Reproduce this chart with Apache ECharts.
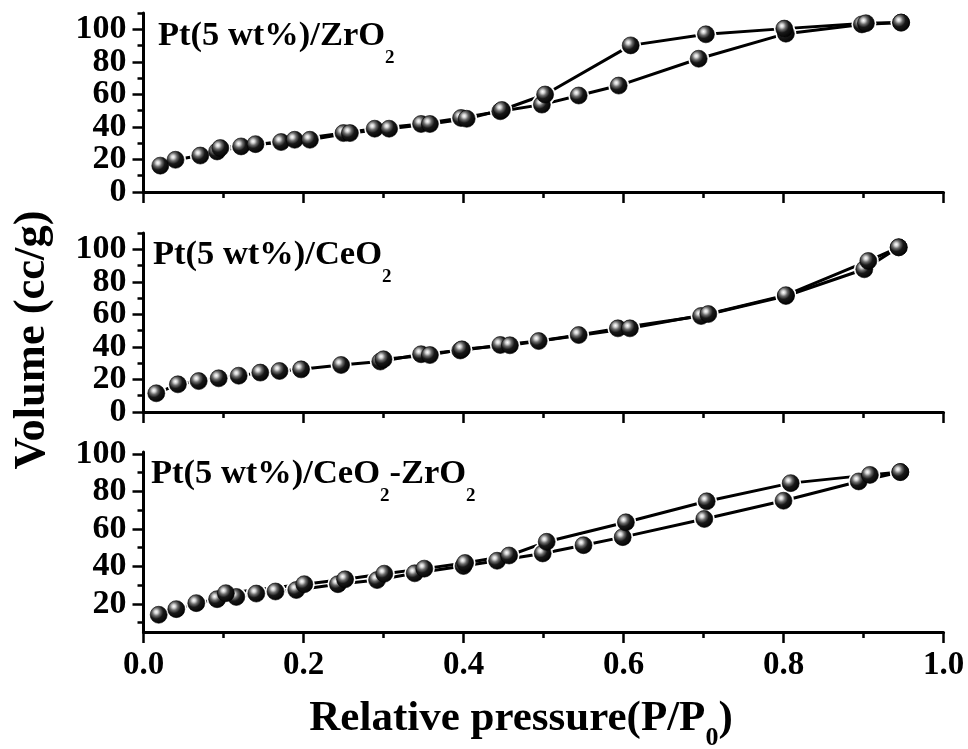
<!DOCTYPE html>
<html>
<head>
<meta charset="utf-8">
<script src="https://cdn.jsdelivr.net/npm/echarts@6/dist/echarts.min.js"></script>
<style>html,body{margin:0;padding:0;background:#fff;}#chart{width:968px;height:749px;}</style>
</head>
<body>
<div id="chart"></div>
<script>
// ---- data ----
const panelLabels = ['Pt(5 wt%)/ZrO{s|2}', 'Pt(5 wt%)/CeO{s|2}', 'Pt(5 wt%)/CeO{s|2}{m|-ZrO}{s|2}'];
const xTickLabels = ['0.0', '0.2', '0.4', '0.6', '0.8', '1.0'];
const yLabelsTop = [0, 20, 40, 60, 80, 100];
const yLabelsMid = [0, 20, 40, 60, 80, 100];
const yLabelsBot = [20, 40, 60, 80, 100];

// Pt/ZrO2
const zrAdsX = [0.021,0.040,0.071,0.092,0.122,0.172,0.189,0.250,0.289,0.347,0.397,0.446,0.498,0.544,0.594,0.694,0.803,0.898,0.947];
const zrAdsY = [16.2,19.8,22.4,24.9,28.0,30.7,32.1,36.2,38.9,41.8,45.5,49.6,53.7,59.3,65.4,81.9,97.3,103.0,104.1];
const zrDesX = [0.947,0.903,0.801,0.703,0.609,0.502,0.448,0.404,0.358,0.307,0.258,0.208,0.140,0.096];
const zrDesY = [104.1,103.7,100.4,96.9,90.1,59.9,50.4,45.0,41.8,38.9,36.2,32.1,29.4,27.0];

// Pt/CeO2
const ceAdsX = [0.016,0.043,0.069,0.094,0.119,0.146,0.170,0.197,0.247,0.296,0.347,0.396,0.446,0.494,0.544,0.593,0.697,0.803,0.901,0.944];
const ceAdsY = [11.5,17.0,19.0,20.7,22.3,24.2,25.2,26.2,28.9,31.0,35.5,37.8,41.2,43.6,47.3,51.4,59.0,71.3,87.7,101.2];
const ceDesX = [0.944,0.906,0.803,0.706,0.608,0.458,0.398,0.358,0.300];
const ceDesY = [101.2,92.8,71.8,60.2,51.4,41.0,38.5,35.0,32.4];

// Pt/CeO2-ZrO2
const czAdsX = [0.019,0.041,0.066,0.092,0.116,0.141,0.165,0.191,0.243,0.292,0.339,0.400,0.442,0.499,0.550,0.599,0.701,0.800,0.894,0.946];
const czAdsY = [14.2,17.2,20.4,22.5,23.7,25.5,26.6,27.4,30.5,32.7,36.3,40.2,43.0,46.9,51.3,55.6,65.3,75.0,85.3,90.3];
const czDesX = [0.946,0.908,0.809,0.704,0.603,0.504,0.457,0.402,0.351,0.301,0.252,0.201,0.103];
const czDesY = [90.3,88.8,84.4,74.7,63.5,53.1,45.8,41.8,38.8,36.1,33.1,30.5,25.7];

// ---- build ----
const FONT = '"Liberation Serif", "Times New Roman", serif';
const pairs = (xs, ys) => xs.map((x, i) => [x, ys[i]]);
const panels = [
  {ads: pairs(zrAdsX, zrAdsY), des: pairs(zrDesX, zrDesY), min: 0, max: 110, labels: yLabelsTop, minor: [10,30,50,70,90,110], top: 13, height: 179},
  {ads: pairs(ceAdsX, ceAdsY), des: pairs(ceDesX, ceDesY), min: 0, max: 110, labels: yLabelsMid, minor: [10,30,50,70,90,110], top: 233, height: 179},
  {ads: pairs(czAdsX, czAdsY), des: pairs(czDesX, czDesY), min: 5, max: 101, labels: yLabelsBot, minor: [10,30,50,70,90], top: 452, height: 180}
];

const sphereColor = {
  type: 'radial', x: 0.36, y: 0.34, r: 0.72,
  colorStops: [
    {offset: 0, color: '#ffffff'},
    {offset: 0.14, color: '#d4d4d4'},
    {offset: 0.32, color: '#6a6a6a'},
    {offset: 0.55, color: '#181818'},
    {offset: 1, color: '#000000'}
  ]
};

const labelStyle = {showMinLabel: true, showMaxLabel: true, hideOverlap: false,
  margin: 17, color: '#000', fontFamily: FONT, fontWeight: 'bold', fontSize: 34};
const tickLine = {color: '#000', width: 2.5};

const grid = [], xAxis = [], yAxis = [], series = [];
panels.forEach((p, g) => {
  grid.push({left: 143.5, right: 24.5, top: p.top, height: p.height, outerBoundsMode: 'none'});
  xAxis.push({
    type: 'value', gridIndex: g, min: 0, max: 1, interval: 0.2,
    axisLine: {lineStyle: {color: '#000', width: 3}},
    axisTick: {show: true, length: 11, lineStyle: tickLine},
    minorTick: {show: true, splitNumber: 2, length: 6, lineStyle: tickLine},
    splitLine: {show: false}, minorSplitLine: {show: false},
    axisLabel: {
      show: g === 2, margin: 17, color: '#000', fontFamily: FONT, fontWeight: 'bold', fontSize: 33,
      showMinLabel: true, showMaxLabel: true,
      formatter: v => xTickLabels[Math.round(v / 0.2)]
    }
  });
  // labels split over two axes so that no axis has neighbouring labels (avoids auto-hiding)
  const setA = p.labels.filter((v, i) => i % 2 === 0);
  const setB = p.labels.filter((v, i) => i % 2 === 1);
  const base = yAxis.length;
  yAxis.push({
    type: 'value', gridIndex: g, min: p.min, max: p.max, position: 'left',
    axisLine: {show: true, lineStyle: {color: '#000', width: 3}},
    axisTick: {show: true, length: 11, customValues: setA, lineStyle: tickLine},
    splitLine: {show: false},
    axisLabel: Object.assign({customValues: setA}, labelStyle)
  });
  yAxis.push({
    type: 'value', gridIndex: g, min: p.min, max: p.max, position: 'left',
    axisLine: {show: false},
    axisTick: {show: true, length: 11, customValues: setB, lineStyle: tickLine},
    splitLine: {show: false},
    axisLabel: Object.assign({customValues: setB}, labelStyle)
  });
  yAxis.push({
    type: 'value', gridIndex: g, min: p.min, max: p.max, position: 'left',
    axisLine: {show: false},
    axisTick: {show: true, length: 6, customValues: p.minor, lineStyle: tickLine},
    splitLine: {show: false},
    axisLabel: {show: false}
  });
  ['ads', 'des'].forEach(k => {
    series.push({
      type: 'line', xAxisIndex: g, yAxisIndex: base, data: p[k], symbol: 'none', z: 2,
      lineStyle: {color: '#000', width: 3}, silent: true
    });
  });
  const all = p.ads.concat(p.des);
  series.push({
    type: 'scatter', xAxisIndex: g, yAxisIndex: base, data: all, symbolSize: 21, z: 3, silent: true,
    itemStyle: {color: '#ffffff', opacity: 1}
  });
  series.push({
    type: 'scatter', xAxisIndex: g, yAxisIndex: base, data: all, symbolSize: 17, z: 4, silent: true,
    itemStyle: {color: sphereColor, borderColor: '#000', borderWidth: 0.6, opacity: 1}
  });
});

const labelRich = {
  m: {fontFamily: FONT, fontWeight: 'bold', fontSize: 34.5, lineHeight: 40, verticalAlign: 'top', fill: '#000'},
  s: {fontFamily: FONT, fontWeight: 'bold', fontSize: 19, lineHeight: 19, padding: [30, 0, 0, 0], verticalAlign: 'top', fill: '#000'}
};
const labelPos = [[158, 19], [153, 238], [151, 457]];
const graphic = panelLabels.map((t, i) => {
  const idx = t.indexOf('{');
  return {
    type: 'text', x: labelPos[i][0], y: labelPos[i][1], silent: true,
    style: {text: '{m|' + t.slice(0, idx) + '}' + t.slice(idx), rich: labelRich}
  };
});

graphic.push({
  type: 'text', x: 32, y: 340, rotation: Math.PI / 2, silent: true,
  style: {text: 'Volume (cc/g)', fontFamily: FONT, fontWeight: 'bold', fontSize: 44.5, fill: '#000', align: 'center', verticalAlign: 'middle'}
});
graphic.push({
  type: 'text', x: 521, y: 697, silent: true,
  style: {
    text: '{m|Relative pressure(P/P}{s|0}{m|)}', align: 'center', verticalAlign: 'top',
    rich: {
      m: {fontFamily: FONT, fontWeight: 'bold', fontSize: 43, lineHeight: 46, verticalAlign: 'top', fill: '#000'},
      s: {fontFamily: FONT, fontWeight: 'bold', fontSize: 26, lineHeight: 26, padding: [28, 0, 0, 0], verticalAlign: 'top', fill: '#000'}
    }
  }
});

const chart = echarts.init(document.getElementById('chart'), null, {renderer: 'canvas'});
chart.setOption({
  animation: false,
  backgroundColor: '#fff',
  grid, xAxis, yAxis, series, graphic
});
</script>
</body>
</html>
